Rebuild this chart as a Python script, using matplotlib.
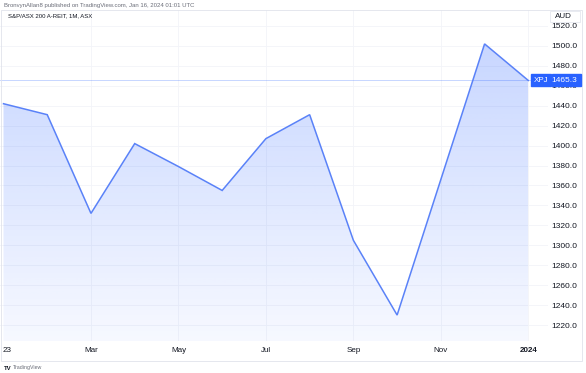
import numpy as np
import matplotlib.pyplot as plt
from matplotlib.patches import Rectangle
from matplotlib.colors import LinearSegmentedColormap

# monthly closes, S&P/ASX 200 A-REIT (XPJ), Jan 2023 .. Jan 2024
months = ["Jan", "Feb", "Mar", "Apr", "May", "Jun", "Jul",
          "Aug", "Sep", "Oct", "Nov", "Dec", "Jan"]
closes = [1442, 1431, 1332, 1402, 1379, 1355, 1407,
          1431, 1305, 1230, 1366, 1502, 1465.3]

tick_pos = [2, 4, 6, 8, 10, 12]
tick_labels = ["Mar", "May", "Jul", "Sep", "Nov", "2024"]
price_ticks = list(range(1220, 1521, 20))
last_price = closes[-1]

BLUE = "#2962ff"
TEXT = "#131722"
GRID = "#f2f4f9"

plt.rcParams['font.family'] = ['Liberation Sans', 'DejaVu Sans']

W, H = 586, 373
fig = plt.figure(figsize=(W / 100, H / 100), dpi=100)
fig.patch.set_facecolor("white")

# axes: px 0..548 horizontally, 10..341 vertically
ax = fig.add_axes([0 / W, 1 - 341 / H, 548 / W, 331 / H])
x = np.arange(len(closes))

ax.set_xlim(-0.08, 12.45)
ax.set_ylim(1204, 1536)

# gradient area fill clipped by the polygon under the line
poly = ax.fill_between(x, closes, 1204, color="none", lw=0)
cmap = LinearSegmentedColormap.from_list(
    "area", [(41/255, 98/255, 1, 0.04), (41/255, 98/255, 1, 0.26)])
grad = np.linspace(0, 1, 256).reshape(-1, 1)
img = ax.imshow(grad, cmap=cmap, aspect="auto", origin="lower",
                extent=[0, 12, 1204, max(closes)], zorder=1)
img.set_clip_path(poly.get_paths()[0], transform=ax.transData)

ax.plot(x, closes, color="#5a82f8", lw=1.1, zorder=3, solid_joinstyle="miter")

# last price line
ax.axhline(last_price, color=BLUE, lw=0.6, alpha=0.3, zorder=2)

# grid
for p in tick_pos:
    ax.axvline(p, color=GRID, lw=0.6, zorder=0)
for p in price_ticks:
    ax.axhline(p, color=GRID, lw=0.6, zorder=0)

for s in ax.spines.values():
    s.set_visible(False)

ax.set_xticks(tick_pos)
ax.set_xticklabels(tick_labels, fontsize=5.8, color=TEXT)
ax.get_xticklabels()[-1].set_fontweight("bold")
ax.tick_params(axis="x", length=0, pad=4.3)
fig.text(3 / W, 1 - 350.5 / H, "23", fontsize=5.8, color=TEXT,
         ha="left", va="center")

ax.yaxis.tick_right()
ax.set_yticks(price_ticks)
ax.set_yticklabels(["%.1f" % v for v in price_ticks], fontsize=6, color=TEXT)
for lab in ax.get_yticklabels():
    lab.set_ha("right")
ax.tick_params(axis="y", length=0, pad=21)

# price label boxes
ybox = ax.transData.transform((0, last_price))[1] / H
fig.patches.append(Rectangle((531 / W, ybox - 6 / H), 20 / W, 12 / H,
                             transform=fig.transFigure, color=BLUE, zorder=5))
fig.patches.append(Rectangle((551.5 / W, ybox - 6 / H), 29 / W, 12 / H,
                             transform=fig.transFigure, color=BLUE, zorder=5))
fig.text(541 / W, ybox, "XPJ", color="white", fontsize=5.8,
         ha="center", va="center", zorder=6)
fig.text(577.5 / W, ybox, "%.1f" % last_price, color="white", fontsize=6,
         ha="right", va="center", zorder=6)

# AUD box
fig.patches.append(Rectangle((550 / W, 1 - 21.5 / H), 30 / W, 10 / H,
                             transform=fig.transFigure, facecolor="white",
                             edgecolor="#e0e3eb", lw=0.5, zorder=5))
fig.text(563 / W, 1 - 16.5 / H, "AUD", color=TEXT, fontsize=5.8,
         ha="center", va="center", zorder=6)

# outer frame
fig.patches.append(Rectangle((1 / W, 1 - 361 / H), 581 / W, 351 / H,
                             transform=fig.transFigure, fill=False,
                             edgecolor="#e0e3eb", lw=0.6, zorder=4))

fig.text(4 / W, 1 - 5 / H,
         "BronvynAllan8 published on TradingView.com, Jan 16, 2024 01:01 UTC",
         fontsize=4.3, color="#6a6d78", ha="left", va="center")
fig.text(8 / W, 1 - 16 / H, "S&P/ASX 200 A-REIT, 1M, ASX",
         fontsize=4.3, color=TEXT, ha="left", va="center")

fig.text(4 / W, 1 - 368 / H, "TV", fontsize=4.3, fontweight="bold",
         color=TEXT, ha="left", va="center")
fig.text(13 / W, 1 - 368 / H, "TradingView", fontsize=3.8,
         color="#6a6d78", ha="left", va="center")

fig.savefig("out.png", dpi=100)
